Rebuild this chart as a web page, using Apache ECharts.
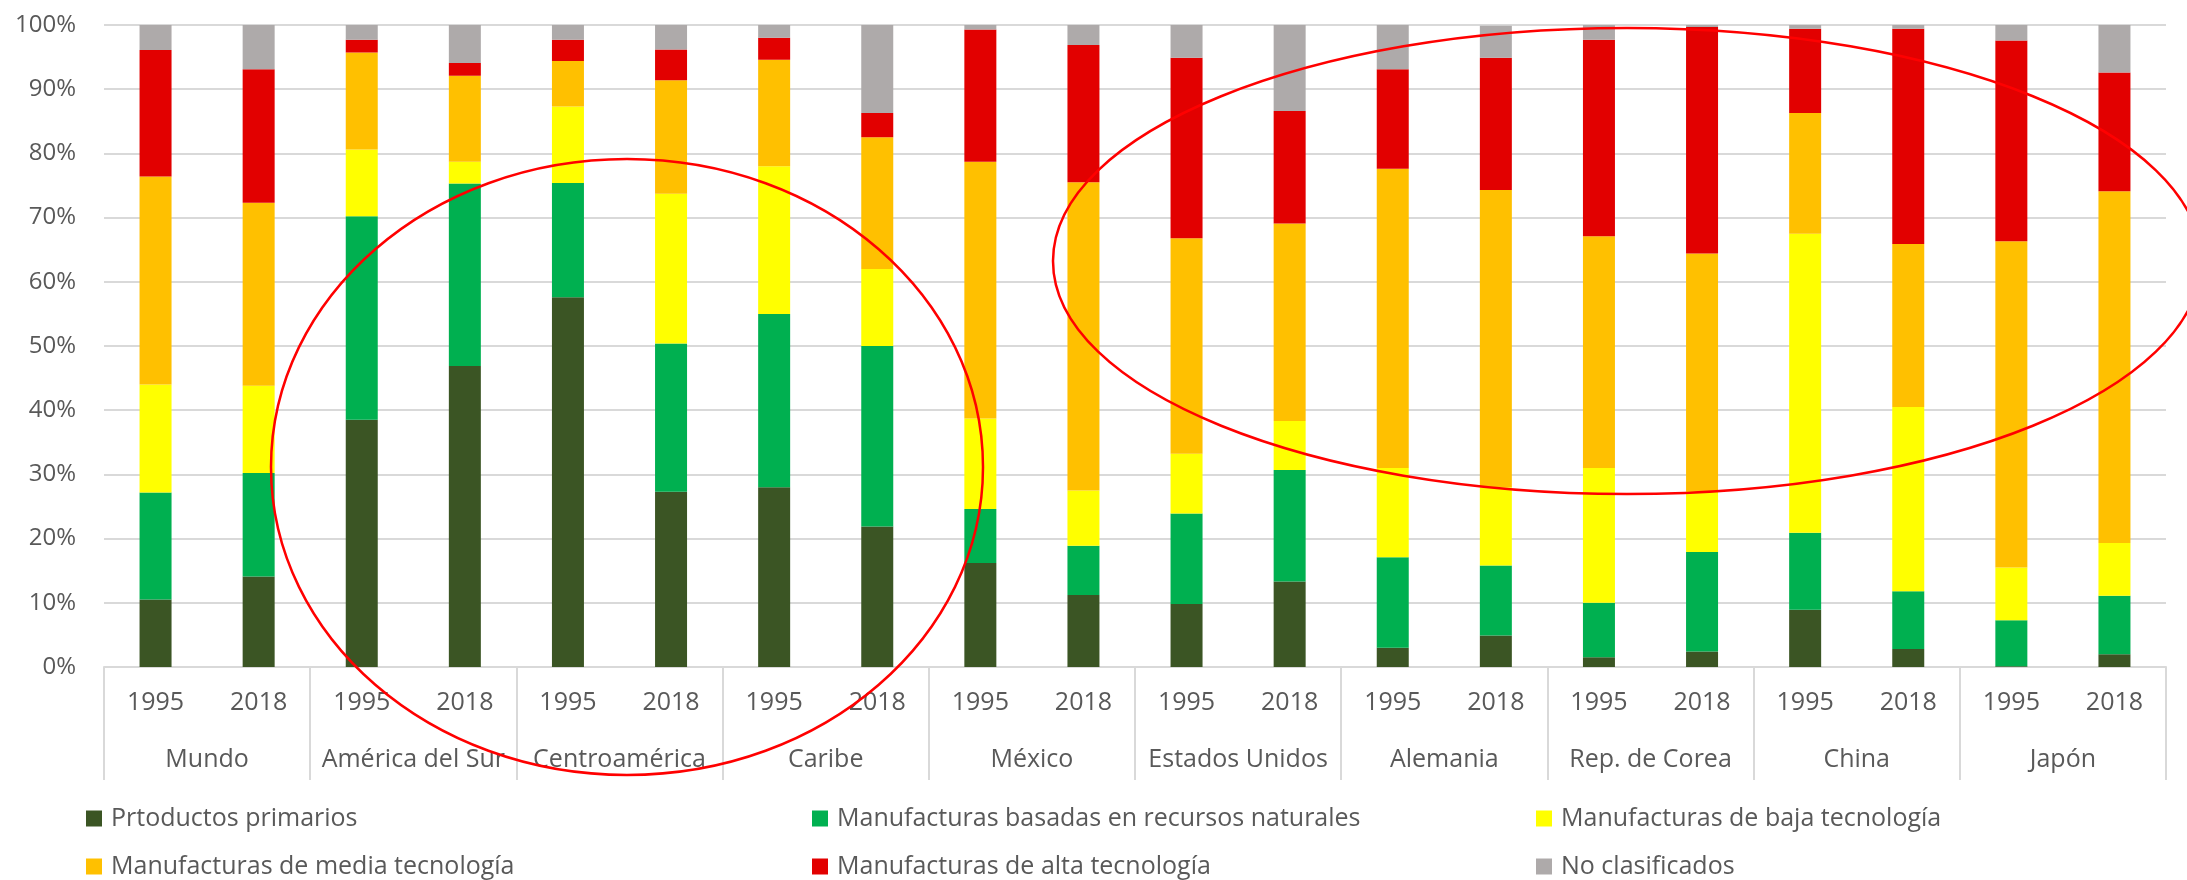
<!DOCTYPE html>
<html>
<head>
<meta charset="utf-8">
<script src="https://cdn.jsdelivr.net/npm/echarts@6/dist/echarts.min.js"></script>
<style>
html,body{margin:0;padding:0;background:#fff;}
#chart{width:2187px;height:880px;}
</style>
</head>
<body>
<div id="chart"></div>
<script>
const years = ['1995','2018','1995','2018','1995','2018','1995','2018','1995','2018','1995','2018','1995','2018','1995','2018','1995','2018','1995','2018'];
const countries = ['Mundo','América del Sur','Centroamérica','Caribe','México','Estados Unidos','Alemania','Rep. de Corea','China','Japón'];
const yTicks = [0,10,20,30,40,50,60,70,80,90,100];

const seriesNames = ['Prtoductos primarios','Manufacturas basadas en recursos naturales','Manufacturas de baja tecnología','Manufacturas de media tecnología','Manufacturas de alta tecnología','No clasificados'];
const primarios = [10.5,14.1,38.5,46.9,57.6,27.3,28.0,21.9,16.2,11.2,9.8,13.3,3.0,4.9,1.5,2.4,8.9,2.8,0.1,2.0];
const recursos  = [16.7,16.1,31.7,28.4,17.8,23.1,27.0,28.1,8.4,7.7,14.1,17.4,14.1,10.9,8.5,15.5,12.0,9.0,7.2,9.1];
const baja      = [16.8,13.6,10.4,3.4,11.9,23.3,23.0,12.0,14.1,8.6,9.3,7.6,13.9,12.2,21.0,9.5,46.6,28.7,8.2,8.2];
const media     = [32.4,28.5,15.1,13.4,7.1,17.7,16.6,20.5,40.0,48.0,33.6,30.8,46.6,46.3,36.1,37.0,18.8,25.4,50.8,54.8];
const alta      = [19.7,20.8,2.0,2.0,3.3,4.8,3.4,3.8,20.6,21.4,28.1,17.5,15.5,20.6,30.6,35.3,13.1,33.5,31.3,18.5];
const noClas    = [3.9,6.9,2.3,5.9,2.3,3.8,2.0,13.7,0.7,3.1,5.1,13.4,6.9,5.0,2.3,0.3,0.6,0.6,2.4,7.4];

const colors = ['#3B5524','#00B050','#FFFF00','#FFC000','#E20000','#AEAAAA'];
const values = [primarios, recursos, baja, media, alta, noClas];

const FONT = '"Open Sans", "DejaVu Sans", sans-serif';
const TXT = '#595959';

const chart = echarts.init(document.getElementById('chart'), null, {renderer:'canvas'});

const series = seriesNames.map((n,i)=>({
  name:n, type:'bar', stack:'total', xAxisIndex:0, yAxisIndex:0,
  barWidth:32, data:values[i], itemStyle:{color:colors[i]}, emphasis:{disabled:true}
}));

// legend grid: 3 columns x 2 rows (row-major order as in reference)
const legendLefts = [86, 812, 1536];
const legendTops = [806, 854];
const legends = seriesNames.map((n,i)=>({
  left:legendLefts[i % 3], top:legendTops[Math.floor(i / 3)], padding:0,
  itemWidth:16, itemHeight:16, icon:'rect', selectedMode:false,
  data:[n],
  textStyle:{fontFamily:FONT, fontSize:25, color:TXT, lineHeight:25, padding:[0,0,0,4]}
}));

chart.setOption({
  animation:false,
  textStyle:{fontFamily:FONT},
  grid:{left:104, right:21, top:25, bottom:213, containLabel:false},
  legend:legends,
  xAxis:[
    {type:'category', data:years, position:'bottom', boundaryGap:true,
     axisLine:{show:true, lineStyle:{color:'#D9D9D9', width:2}},
     axisTick:{show:false},
     axisLabel:{interval:0, margin:23, fontFamily:FONT, fontSize:25, color:TXT},
     splitLine:{show:false}},
    {type:'category', data:countries, position:'bottom', boundaryGap:true,
     axisLine:{show:false},
     axisTick:{show:true, interval:0, length:113, lineStyle:{color:'#D9D9D9', width:2}},
     axisLabel:{interval:0, margin:80, fontFamily:FONT, fontSize:25, color:TXT},
     splitLine:{show:false}}
  ],
  yAxis:{type:'value', min:yTicks[0], max:yTicks[yTicks.length-1], interval:10,
     axisLine:{show:false}, axisTick:{show:false},
     axisLabel:{formatter:'{value}%', margin:28, fontFamily:FONT, fontSize:24, color:TXT},
     splitLine:{lineStyle:{color:'#D9D9D9', width:2}}},
  series:series,
  graphic:[
    {type:'ellipse', z:100, silent:true, shape:{cx:627, cy:467, rx:356, ry:308},
     style:{fill:'none', stroke:'#FF0000', lineWidth:2.5}},
    {type:'ellipse', z:100, silent:true, shape:{cx:1627, cy:261, rx:574, ry:233},
     style:{fill:'none', stroke:'#FF0000', lineWidth:2.5}}
  ]
});
</script>
</body>
</html>
